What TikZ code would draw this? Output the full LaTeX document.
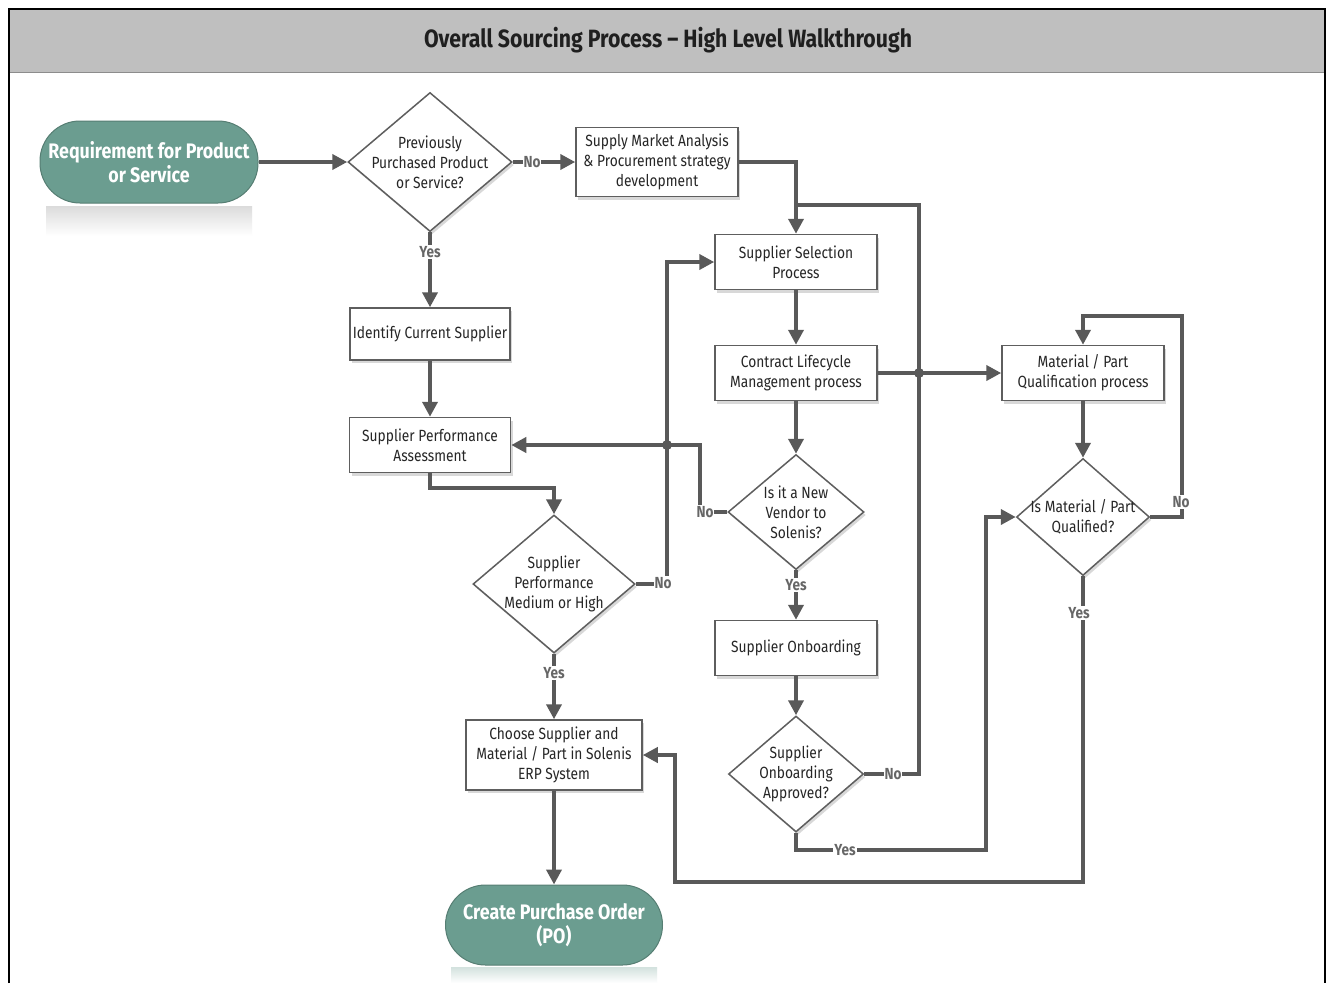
\documentclass[tikz,border=0pt]{standalone}
\usepackage{fontspec}
\setmainfont{Fira Sans}[FakeStretch=0.85]
\usetikzlibrary{shapes.geometric,shadows,arrows.meta,calc}
\definecolor{linegray}{HTML}{595959}
\definecolor{boxborder}{HTML}{5E5E5E}
\definecolor{termfill}{HTML}{6B9D90}
\definecolor{hdrgray}{HTML}{BFBFBF}
\definecolor{labgray}{HTML}{666666}
\begin{document}
\begin{tikzpicture}[x=1pt,y=-1pt,
  shad/.style={drop shadow={opacity=0.3, shadow xshift=2pt, shadow yshift=-3pt}},
  box/.style={draw=boxborder, line width=1.5pt, fill=white, shad, align=center,
    inner sep=0pt, font=\fontsize{16.2}{20}\selectfont, text=black!85},
  dia/.style={diamond, draw=boxborder, line width=1.5pt, fill=white, shad, inner sep=0pt},
  dtext/.style={align=center, font=\fontsize{16.2}{20}\selectfont, text=black!85, inner sep=0pt},
  term/.style={rounded corners=40pt, draw=termfill!80!black, line width=1pt, fill=termfill,
    text=white, align=center, font=\bfseries\fontsize{21}{24}\selectfont, inner sep=0pt},
  conn/.style={draw=linegray, line width=4pt},
  arr/.style={conn, -{Triangle[length=15pt,width=15pt]}},
  lbl/.style={fill=white, inner sep=1pt, text=labgray, font=\bfseries\fontsize{16}{16}\selectfont},
  jdot/.style={circle, fill=linegray, inner sep=0pt, minimum size=10pt}
]
\useasboundingbox (0,0) rectangle (1327,983);
% frame and header
\fill[white] (0,0) rectangle (1327,983);
\fill[hdrgray] (9,9) rectangle (1325,72);
\draw[black!45, line width=1pt] (9,72) -- (1325,72);
\draw[black, line width=2pt] (9,983) -- (9,9) -- (1325,9) -- (1325,983);
\node[font=\bfseries\fontsize{25}{28}\selectfont, text=black!88] (title) at (668,40) {Overall Sourcing Process – High Level Walkthrough};

% reflections
\shade[top color=black!14, bottom color=white] (46,206) rectangle (252,236);
\shade[top color=termfill!30, bottom color=white] (451,967) rectangle (657,983);

% terminals
\node[term, minimum width=218pt, minimum height=82pt] (start) at (149,162) {Requirement for Product\\or Service};
\node[term, minimum width=217pt, minimum height=80pt] (end) at (554,925) {Create Purchase Order\\(PO)};

% decisions
\node[dia, minimum width=164pt, minimum height=139pt] (d1) at (430,162) {};
\node[dtext] (d1t) at (d1) {Previously\\Purchased Product\\or Service?};
\node[dia, minimum width=162pt, minimum height=138pt] (d2) at (554,584) {};
\node[dtext] (d2t) at (d2) {Supplier\\Performance\\Medium or High};
\node[dia, minimum width=136pt, minimum height=115pt] (d3) at (796,512) {};
\node[dtext] (d3t) at (d3) {Is it a New\\Vendor to\\Solenis?};
\node[dia, minimum width=135pt, minimum height=116pt] (d4) at (796,774) {};
\node[dtext] (d4t) at (d4) {Supplier\\Onboarding\\Approved?};
\node[dia, minimum width=133pt, minimum height=117pt] (d5) at (1083,517) {};
\node[dtext] (d5t) at (d5) {Is Material / Part\\Qualified?};

% process boxes
\node[box, minimum width=162pt, minimum height=69pt] (sma) at (657,162) {Supply Market Analysis\\\& Procurement strategy\\development};
\node[box, minimum width=160pt, minimum height=52pt] (ics) at (430,334) {Identify Current Supplier};
\node[box, minimum width=161pt, minimum height=55pt] (spa) at (430,445) {Supplier Performance\\Assessment};
\node[box, minimum width=162pt, minimum height=55pt] (ssp) at (796,262) {Supplier Selection\\Process};
\node[box, minimum width=162pt, minimum height=55pt] (clm) at (796,373) {Contract Lifecycle\\Management process};
\node[box, minimum width=162pt, minimum height=55pt] (so) at (796,648) {Supplier Onboarding};
\node[box, minimum width=162pt, minimum height=55pt] (mqp) at (1083,373) {Material / Part\\Qualification process};
\node[box, minimum width=176pt, minimum height=70pt] (choose) at (554,755) {Choose Supplier and\\Material / Part in Solenis\\ERP System};

% routing coordinates
\coordinate (colA) at (667,0);
\coordinate (colB) at (700,0);
\coordinate (colC) at (919,0);
\coordinate (colD) at (986,0);
\coordinate (colE) at (1182,0);
\coordinate (colF) at (675,0);
\coordinate (rowJ) at (0,205);
\coordinate (rowT) at (0,316);
\coordinate (rowY) at (0,850);
\coordinate (rowB) at (0,882);
\coordinate (jn) at (ssp.north |- rowJ);

% connectors
\draw[arr] (start.east) -- (d1.west);
\draw[arr] (d1.east) -- (sma.west);
\draw[arr] (d1.south) -- (ics.north);
\draw[arr] (ics.south) -- (spa.north);
\draw[arr] (spa.south) -- ++(0,15) -| (d2.north);
\draw[arr] (d2.east) -| (colA |- ssp.west) -- (ssp.west);
\draw[arr] (d2.south) -- (choose.north);
\draw[arr] (sma.east) -| (ssp.north);
\draw[arr] (ssp.south) -- (clm.north);
\draw[arr] (clm.south) -- (d3.north);
\draw[arr] (d3.west) -| (colB |- spa.east) -- (spa.east);
\draw[arr] (d3.south) -- (so.north);
\draw[arr] (so.south) -- (d4.north);
\draw[conn] (d4.east) -| (colC |- rowJ) -- (jn);
\draw[arr] (d4.south) |- (colD |- rowY) |- (d5.west);
\draw[arr] (clm.east) -- (mqp.west);
\draw[arr] (mqp.south) -- (d5.north);
\draw[arr] (d5.east) -| (colE |- rowT) -| (mqp.north);
\draw[arr] (d5.south) |- (colF |- rowB) |- (choose.east);
\draw[arr] (choose.south) -- (end.north);

% jump dots
\node[jdot] (j1) at (colC |- clm.east) {};
\node[jdot] (j2) at (colA |- spa.east) {};

% labels
\node[lbl] (l1) at (532,162) {No};
\node[lbl] (l2) at (430,252) {Yes};
\node[lbl] (l3) at (663,583) {No};
\node[lbl] (l4) at (554,673) {Yes};
\node[lbl] (l5) at (705,512) {No};
\node[lbl] (l6) at (796,585) {Yes};
\node[lbl] (l7) at (893,774) {No};
\node[lbl] (l8) at (845,850) {Yes};
\node[lbl] (l9) at (1181,502) {No};
\node[lbl] (l10) at (1079,613) {Yes};
\end{tikzpicture}
\end{document}
